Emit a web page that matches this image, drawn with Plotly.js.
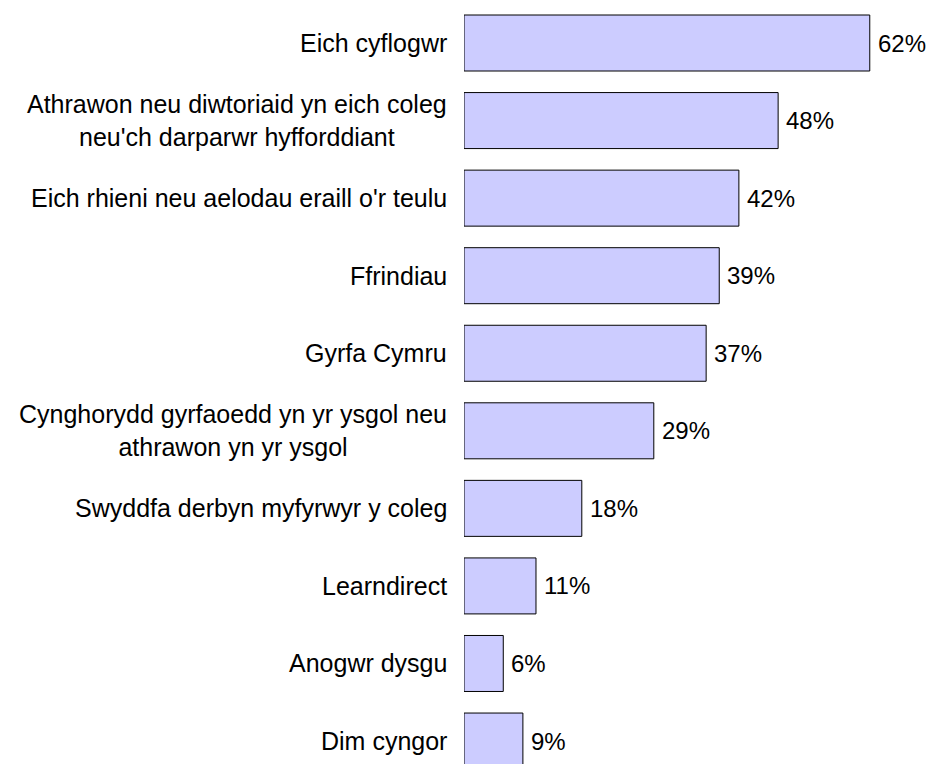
<!DOCTYPE html>
<html>
<head>
<meta charset="utf-8">
<script src="https://cdn.plot.ly/plotly-3.0.1.min.js"></script>
<style>
  html, body { margin: 0; padding: 0; background: #fff; }
  #chart { width: 929px; height: 764px; }
</style>
</head>
<body>
<div id="chart"></div>
<script>
const categories = [
    'Eich cyflogwr',
    'Athrawon neu diwtoriaid yn eich coleg<br>neu\'ch darparwr hyfforddiant',
    'Eich rhieni neu aelodau eraill o\'r teulu',
    'Ffrindiau',
    'Gyrfa Cymru',
    'Cynghorydd gyrfaoedd yn yr ysgol neu<br>athrawon yn yr ysgol',
    'Swyddfa derbyn myfyrwyr y coleg',
    'Learndirect',
    'Anogwr dysgu',
    'Dim cyngor'
];
const values = [62, 48, 42, 39, 37, 29, 18, 11, 6, 9];

const font = { family: 'Liberation Sans, Arial, sans-serif', size: 24, color: '#000' };
const catFont = { family: 'Liberation Sans, Arial, sans-serif', size: 25, color: '#000' };

const data = [{
    type: 'bar',
    orientation: 'h',
    x: values,
    y: categories,
    marker: { color: '#CCCCFF', line: { color: '#000', width: 1 } },
    hoverinfo: 'none'
}];

// category labels, lines centred like the original
const catLabels = categories.map(c => ({
    xref: 'paper', yref: 'y', x: 0, y: c,
    xanchor: 'right', yanchor: 'middle', xshift: -17,
    text: c, align: 'center', showarrow: false,
    borderpad: 0, borderwidth: 0, font: catFont
}));

// value labels to the right of each bar
const valLabels = values.map((v, i) => ({
    xref: 'x', yref: 'y', x: v, y: categories[i],
    xanchor: 'left', yanchor: 'middle', xshift: 8,
    text: v + '%', showarrow: false,
    borderpad: 0, borderwidth: 0, font: font
}));

const layout = {
    width: 929, height: 764,
    margin: { l: 464, r: 0, t: 4, b: 0 },
    paper_bgcolor: '#fff', plot_bgcolor: '#fff',
    font: font,
    showlegend: false,
    bargap: 0.278,
    xaxis: { range: [0, 71.05], showgrid: false, zeroline: false, showticklabels: false, showline: false, fixedrange: true },
    yaxis: { type: 'category', range: [9.296, -0.503], showgrid: false, zeroline: false, showticklabels: false, showline: false, fixedrange: true },
    annotations: catLabels.concat(valLabels)
};

Plotly.newPlot('chart', data, layout, { displayModeBar: false, staticPlot: true });
</script>
</body>
</html>
